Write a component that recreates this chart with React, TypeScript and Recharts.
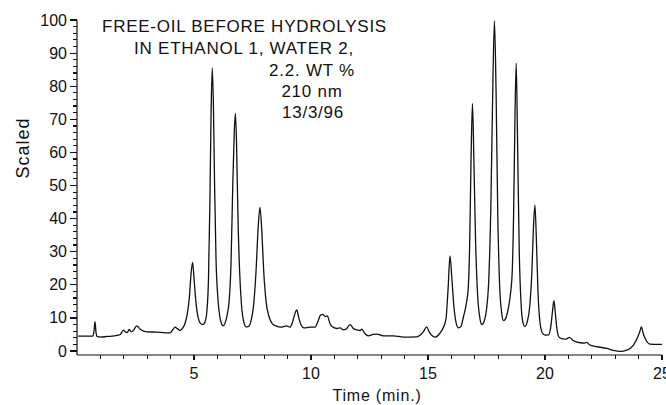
import { LineChart, Line, XAxis, YAxis, Label } from 'recharts';

// retention time (min) and detector response (scaled)
const timeMin = [
  0.05, 0.4, 0.68, 0.73, 0.77, 0.81, 0.86, 1.0, 1.3, 1.6, 1.85, 1.98, 2.08, 2.15, 2.23, 2.32, 2.42, 2.55, 2.7, 2.98,
  3.4, 3.8, 3.97, 4.1, 4.19, 4.3, 4.4, 4.52, 4.62, 4.72, 4.8, 4.87, 4.94, 5.0, 5.08, 5.18, 5.28, 5.38, 5.48, 5.55,
  5.62, 5.68, 5.73, 5.78, 5.83, 5.88, 5.94, 6.02, 6.1, 6.18, 6.25, 6.33, 6.42, 6.5, 6.58, 6.65, 6.72, 6.77, 6.82, 6.88,
  6.95, 7.03, 7.12, 7.22, 7.32, 7.45, 7.55, 7.65, 7.74, 7.82, 7.9, 7.98, 8.08, 8.2, 8.35, 8.5, 8.7, 8.96, 9.1, 9.2,
  9.3, 9.39, 9.48, 9.58, 9.7, 9.95, 10.17, 10.3, 10.4, 10.5, 10.6, 10.7, 10.8, 10.9, 11.1, 11.25, 11.38, 11.5, 11.67, 11.8,
  11.95, 12.1, 12.17, 12.3, 12.45, 12.65, 12.8, 13.09, 13.52, 13.95, 14.52, 14.7, 14.82, 14.94, 15.05, 15.18, 15.3, 15.5, 15.65, 15.77,
  15.86, 15.94, 16.02, 16.1, 16.2, 16.3, 16.4, 16.52, 16.63, 16.72, 16.78, 16.84, 16.9, 16.96, 17.03, 17.12, 17.22, 17.3, 17.4, 17.5,
  17.6, 17.69, 17.77, 17.84, 17.91, 17.98, 18.06, 18.14, 18.23, 18.32, 18.42, 18.52, 18.6, 18.66, 18.72, 18.77, 18.83, 18.9, 18.98, 19.06,
  19.14, 19.24, 19.34, 19.44, 19.51, 19.57, 19.63, 19.7, 19.78, 19.88, 20.0, 20.16, 20.25, 20.32, 20.38, 20.44, 20.5, 20.6, 20.75, 20.9,
  21.04, 21.2, 21.5, 21.7, 21.78, 21.9, 22.21, 22.64, 22.92, 23.21, 23.5, 23.78, 23.95, 24.05, 24.12, 24.2, 24.3, 24.49, 24.8, 25.0,
];
const scaled = [
  4.5, 4.5, 4.5, 6.2, 8.9, 5.8, 4.4, 4.2, 4.4, 4.6, 5.0, 6.3, 5.7, 5.6, 6.5, 5.8, 6.3, 7.6, 6.6, 5.8,
  5.7, 5.5, 5.5, 6.5, 7.2, 6.7, 6.2, 7.0, 8.4, 11.5, 16, 23, 26.8, 22, 15, 10, 8.3, 8.0, 9.0, 12,
  22, 45, 72, 85.5, 74, 50, 28, 16, 10.5, 8.2, 7.6, 8.5, 11, 15, 26, 48, 66, 71.8, 62, 40,
  24, 14, 9, 7.3, 7.4, 9.5, 14, 24, 37, 43.4, 36, 24, 15, 10.5, 8.2, 7.6, 7.2, 7.6, 7.2, 8.5,
  11, 12.4, 10, 7.8, 7.0, 7.2, 7.2, 9, 10.8, 11.1, 10.4, 10.6, 8.5, 7.4, 6.8, 7.0, 6.4, 6.6, 8.0, 6.9,
  6.4, 6.2, 6.6, 5.3, 4.6, 5.0, 5.1, 4.6, 4.6, 4.2, 4.3, 5.0, 6.0, 7.3, 5.8, 4.6, 4.2, 5.3, 7.0, 9.8,
  19, 28.7, 22, 14, 8.6, 7.0, 7.3, 10.5, 14, 19, 32, 58, 74.8, 58, 34, 17, 9.8, 8.0, 9.0, 12.5,
  22, 45, 80, 99.8, 78, 42, 20, 12, 9.2, 9.8, 12.5, 17, 24, 42, 72, 86.9, 62, 30, 14, 8.5,
  7.4, 8.8, 13, 24, 38, 44.1, 34, 18, 9, 5.6, 4.8, 4.9, 7.5, 12, 15.2, 11.5, 7.2, 4.2, 3.7, 3.6,
  4.1, 3.2, 2.5, 2.4, 2.6, 1.9, 1.3, 0.8, 0.2, -0.1, 0.3, 1.8, 4.0, 5.8, 7.3, 5.2, 3.5, 2.1, 2.0, 2.0,
];

// every minute gets a tick, every 5th one a label; y ticks every 2, labelled every 10
const xTicks = [1, 2, 3, 4, 5, 6, 7, 8, 9, 10, 11, 12, 13, 14, 15, 16, 17, 18, 19, 20, 21, 22, 23, 24, 25];
const yTicks = [
  0, 2, 4, 6, 8, 10, 12, 14, 16, 18, 20, 22, 24, 26, 28, 30, 32, 34, 36, 38, 40, 42, 44, 46, 48, 50,
  52, 54, 56, 58, 60, 62, 64, 66, 68, 70, 72, 74, 76, 78, 80, 82, 84, 86, 88, 90, 92, 94, 96, 98, 100,
];

const noteLines = [
  'FREE-OIL BEFORE HYDROLYSIS',
  'IN ETHANOL 1, WATER 2,',
  '2.2. WT %',
  '210 nm',
  '13/3/96',
];

const data = timeMin.map((t, i) => ({ t, v: scaled[i] }));

const FONT = '"Liberation Sans", Arial, Helvetica, sans-serif';
const INK = '#111';

// per-line placement of the annotation block
const notePos = [
  { x: 102, y: 32, anchor: 'start' },
  { x: 354, y: 54, anchor: 'end' },
  { x: 312, y: 76, anchor: 'middle' },
  { x: 312, y: 97, anchor: 'middle' },
  { x: 313, y: 118, anchor: 'middle' },
];

function XTick(props: any) {
  const { x, y, payload } = props;
  const major = payload.value % 5 === 0;
  return (
    <g>
      <line x1={x} x2={x} y1={y} y2={y + (major ? 5 : 4)} stroke={INK} strokeWidth={1.2} shapeRendering="crispEdges" />
      {major && (
        <text x={x} y={y + 24} textAnchor="middle" fontSize={16} fontFamily={FONT} fill={INK}>
          {payload.value}
        </text>
      )}
    </g>
  );
}

function YTick(props: any) {
  const { x, y, payload } = props;
  const major = payload.value % 10 === 0;
  return (
    <g>
      <line x1={x - (major ? 7 : 4)} x2={x} y1={y} y2={y} stroke={INK} strokeWidth={1.2} shapeRendering="crispEdges" />
      {major && (
        <text x={x - 10} y={y + 5.5} textAnchor="end" fontSize={16} fontFamily={FONT} fill={INK}>
          {payload.value}
        </text>
      )}
    </g>
  );
}

export default function App() {
  return (
    <div style={{ position: 'absolute', left: 0, top: 0, width: 666, height: 405, background: '#fff' }}>
      <LineChart width={666} height={405} data={data} margin={{ top: 20, right: 4, bottom: 0, left: 0 }}>
        <XAxis
          xAxisId="t"
          dataKey="t"
          type="number"
          domain={[0, 25]}
          ticks={xTicks}
          interval={0}
          height={50}
          tickSize={0}
          tickMargin={0}
          tickLine={false}
          tick={<XTick />}
          axisLine={{ stroke: INK, strokeWidth: 1.2 }}
        >
          <Label
            content={() => (
              <text x={377} y={401} textAnchor="middle" fontSize={16} letterSpacing={0.8} fontFamily={FONT} fill={INK}>
                Time (min.)
              </text>
            )}
          />
        </XAxis>
        <YAxis
          yAxisId="v"
          type="number"
          domain={[-1.2, 100]}
          ticks={yTicks}
          interval={0}
          width={77}
          tickSize={0}
          tickMargin={0}
          tickLine={false}
          tick={<YTick />}
          axisLine={{ stroke: INK, strokeWidth: 1.2 }}
        >
          <Label
            content={() => (
              <text
                x={29}
                y={148}
                transform="rotate(-90 29 148)"
                textAnchor="middle"
                fontSize={18}
                letterSpacing={1}
                fontFamily={FONT}
                fill={INK}
              >
                Scaled
              </text>
            )}
          />
        </YAxis>
        <Line
          xAxisId="t"
          yAxisId="v"
          dataKey="v"
          type="monotone"
          stroke={INK}
          strokeWidth={1.3}
          dot={false}
          isAnimationActive={false}
        />
      </LineChart>
      <svg width={666} height={140} style={{ position: 'absolute', left: 0, top: 0, pointerEvents: 'none' }}>
        {noteLines.map((line, i) => (
          <text
            key={i}
            x={notePos[i].x}
            y={notePos[i].y}
            textAnchor={notePos[i].anchor as any}
            fontSize={17}
            letterSpacing={0.75}
            fontFamily={FONT}
            fill={INK}
          >
            {line}
          </text>
        ))}
      </svg>
    </div>
  );
}
